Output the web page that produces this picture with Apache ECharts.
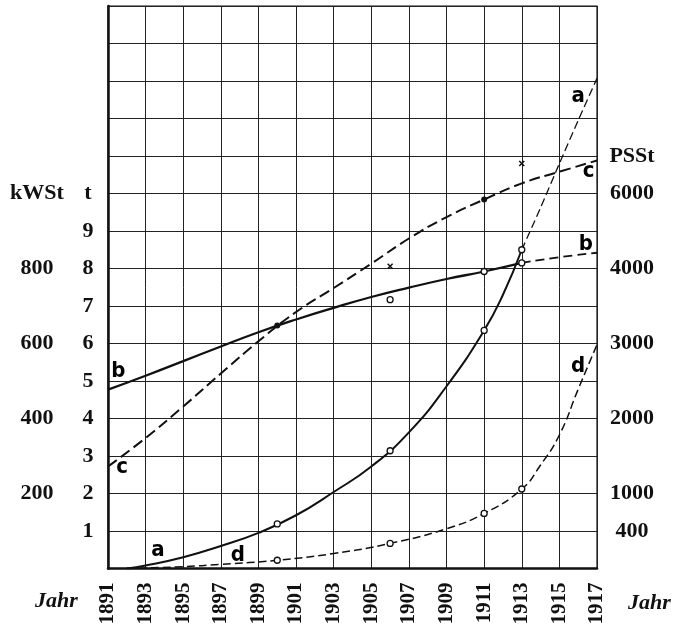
<!DOCTYPE html>
<html>
<head>
<meta charset="utf-8">
<script src="https://cdn.jsdelivr.net/npm/echarts@6/dist/echarts.min.js"></script>
<style>
html,body{margin:0;padding:0;background:#fff;}
#chart{width:678px;height:630px;}
</style>
</head>
<body>
<div id="chart"></div>
<script>
// ---- data ----
const yearMin = 1891, yearMax = 1917;
// curve a (solid part and dashed extrapolation)
const aYears = [1892, 1893, 1895, 1897, 1899, 1901, 1903, 1905, 1907, 1909, 1911, 1912, 1913];
const aValues = [0, 0.08, 0.3, 0.6, 0.95, 1.42, 2.04, 2.72, 3.63, 4.86, 6.35, 7.3, 8.5];
const aExtYears = [1913, 1914, 1915, 1916, 1917];
const aExtValues = [8.5, 9.62, 10.8, 11.95, 13.07];
// curve b
const bYears = [1891, 1893, 1895, 1897, 1899, 1901, 1903, 1905, 1907, 1909, 1911, 1913];
const bValues = [4.77, 5.14, 5.53, 5.92, 6.3, 6.64, 6.95, 7.24, 7.49, 7.72, 7.92, 8.15];
const bExtYears = [1913, 1915, 1917];
const bExtValues = [8.15, 8.3, 8.42];
// curve c
const cYears = [1891, 1893, 1895, 1897, 1899, 1901, 1903, 1905, 1907, 1909, 1911, 1913, 1915, 1917];
const cValues = [2.72, 3.48, 4.32, 5.2, 6.06, 6.84, 7.48, 8.13, 8.8, 9.37, 9.84, 10.27, 10.58, 10.88];
// curve d
const dYears = [1892, 1895, 1897, 1900, 1903, 1906, 1909, 1911, 1913, 1914, 1915, 1916, 1917];
const dValues = [0, 0.05, 0.11, 0.22, 0.4, 0.67, 1.06, 1.47, 2.12, 2.76, 3.56, 4.78, 5.97];
// observed points
const aPtYears = [1900, 1906, 1911, 1913];
const aPtValues = [1.19, 3.14, 6.35, 8.5];
const dPtYears = [1900, 1906, 1911, 1913];
const dPtValues = [0.22, 0.67, 1.47, 2.12];
const bPtYears = [1906, 1911, 1913];
const bPtValues = [7.17, 7.92, 8.15];
const dotYears = [1900, 1911];
const dotValues = [6.48, 9.84];
const crossYears = [1906, 1913];
const crossValues = [8.06, 10.8];
// curve letters
const letterTexts = ['a', 'a', 'b', 'b', 'c', 'c', 'd', 'd'];
const letterYears = [1893.66, 1916.0, 1891.55, 1916.4, 1891.75, 1916.55, 1897.9, 1916.0];
const letterValues = [0.49, 12.6, 5.25, 8.65, 2.69, 10.6, 0.36, 5.39];
// axis tick labels
const tLabels = {1:'1',2:'2',3:'3',4:'4',5:'5',6:'6',7:'7',8:'8',9:'9',10:'t'};
const kwLabels = {2:'200',4:'400',6:'600',8:'800',10:'kWSt'};
const psLabels = {1:'400',2:'1000',4:'2000',6:'3000',8:'4000',10:'6000',11:'PSSt'};
const xTitle = 'Jahr';

const zip = (xs, ys) => xs.map((x, i) => [x, ys[i]]);

const serif = '"Liberation Serif", "DejaVu Serif", serif';
const labelStyle = {fontFamily: serif, fontWeight: 'bold', fontSize: 22, color: '#111'};

function yAx(labels, pos, margin, show) {
  return {
    type: 'value', min: 0, max: 15, interval: 1, position: pos,
    axisLine: {show: show, lineStyle: {color: '#111', width: 2.5}},
    axisTick: {show: false},
    splitLine: {show: show, lineStyle: {color: '#222', width: 1}},
    axisLabel: Object.assign({
      margin: margin, align: 'center', showMinLabel: true, showMaxLabel: true,
      formatter: v => labels[v] || ''
    }, labelStyle)
  };
}

const chart = echarts.init(document.getElementById('chart'), null, {renderer: 'canvas'});
const lineBase = {type: 'line', showSymbol: false, symbol: 'none', smooth: 0.5, yAxisIndex: 0, z: 3};
chart.setOption({
  animation: false,
  backgroundColor: '#fff',
  grid: {left: 108, right: 81, top: 6, bottom: 61.5, show: true, borderColor: '#111', borderWidth: 1.2},
  xAxis: {
    type: 'value', min: yearMin, max: yearMax, interval: 2,
    axisLine: {lineStyle: {color: '#111', width: 2.5}},
    axisTick: {show: false},
    splitLine: {show: true, lineStyle: {color: '#222', width: 1}},
    axisLabel: Object.assign({rotate: 90, margin: 14, formatter: v => String(v)}, labelStyle, {fontSize: 21})
  },
  yAxis: [
    yAx(tLabels, 'left', 20, true),
    yAx(kwLabels, 'left', 71, false),
    yAx(psLabels, 'right', 35, false)
  ],
  graphic: [
    {type: 'text', left: 35, top: 590, style: {text: xTitle, font: 'bold italic 22px ' + serif, fill: '#111'}},
    {type: 'text', left: 628, top: 592, style: {text: xTitle, font: 'bold italic 22px ' + serif, fill: '#111'}}
  ],
  series: [
    Object.assign({}, lineBase, {data: zip(aYears, aValues), lineStyle: {color: '#111', width: 2}}),
    Object.assign({}, lineBase, {data: zip(aExtYears, aExtValues), smooth: 0.2, lineStyle: {color: '#111', width: 1.3, type: [8, 4]}}),
    Object.assign({}, lineBase, {data: zip(bYears, bValues), lineStyle: {color: '#111', width: 2.3}}),
    Object.assign({}, lineBase, {data: zip(bExtYears, bExtValues), lineStyle: {color: '#111', width: 1.8, type: [9, 5]}}),
    Object.assign({}, lineBase, {data: zip(cYears, cValues), lineStyle: {color: '#111', width: 2, type: [11, 5]}}),
    Object.assign({}, lineBase, {data: zip(dYears, dValues), lineStyle: {color: '#111', width: 1.5, type: [8, 4]}}),
    {type: 'scatter', data: zip(aPtYears, aPtValues).concat(zip(dPtYears, dPtValues), zip(bPtYears, bPtValues)),
     symbol: 'circle', symbolSize: 6, z: 5,
     itemStyle: {color: '#fff', borderColor: '#111', borderWidth: 1.3, opacity: 1}},
    {type: 'scatter', data: zip(dotYears, dotValues), symbol: 'circle', symbolSize: 6, z: 5,
     itemStyle: {color: '#111', opacity: 1}},
    {type: 'scatter', data: zip(crossYears, crossValues), symbol: 'path://M0,0L10,10M10,0L0,10', symbolSize: 5, z: 5,
     itemStyle: {color: 'none', borderColor: '#111', borderWidth: 1.5, opacity: 1}},
    {type: 'scatter', data: letterTexts.map((t, i) => ({value: [letterYears[i], letterValues[i]], name: t})),
     symbolSize: 0, z: 6, itemStyle: {opacity: 1},
     label: {show: true, position: 'inside', formatter: p => p.name,
       fontFamily: '"Liberation Sans Narrow", "DejaVu Sans Condensed", "DejaVu Sans", sans-serif',
       fontWeight: 'bold', fontSize: 22, color: '#000'}}
  ]
});
</script>
</body>
</html>
